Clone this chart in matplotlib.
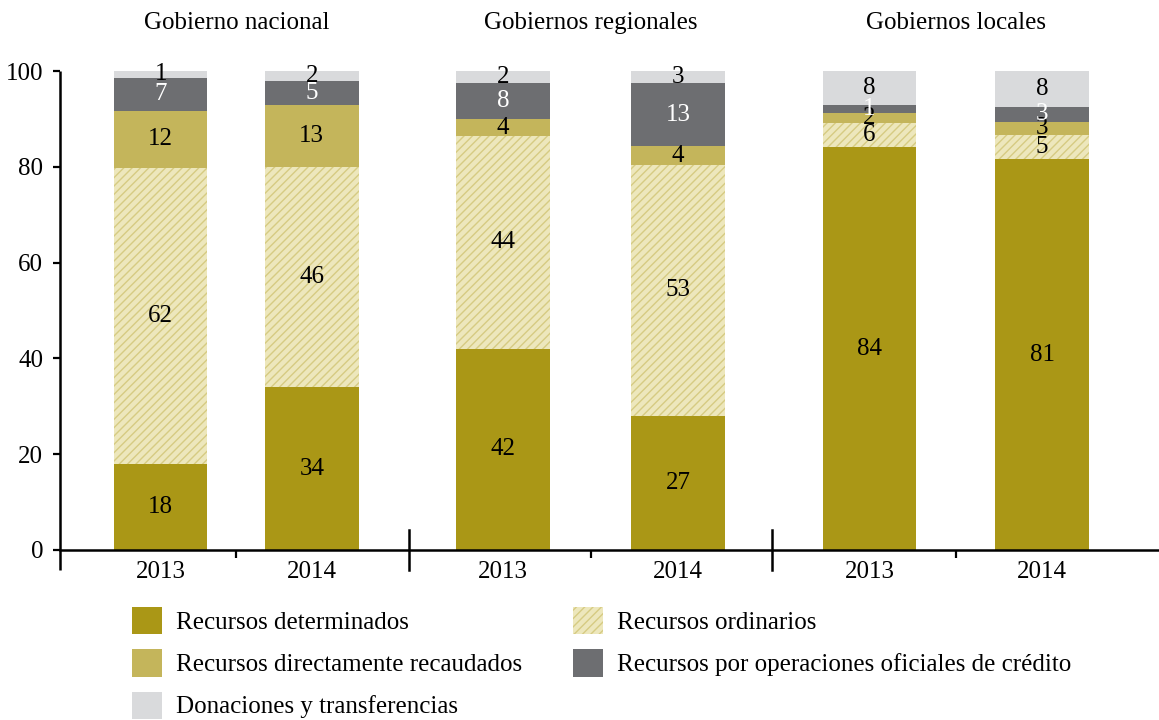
import numpy as np
import matplotlib
matplotlib.use('Agg')
import matplotlib.pyplot as plt
import matplotlib.transforms as mtransforms
from matplotlib.patches import Patch

plt.rcParams['font.family'] = ['Liberation Serif', 'DejaVu Serif']
plt.rcParams['hatch.linewidth'] = 1.0

# Data (percent of each bar), bars: GN 2013, GN 2014, GR 2013, GR 2014, GL 2013, GL 2014
groups = ['Gobierno nacional', 'Gobiernos regionales', 'Gobiernos locales']
years = ['2013', '2014']
series = ['Recursos determinados', 'Recursos ordinarios', 'Recursos directamente recaudados',
          'Recursos por operaciones oficiales de crédito', 'Donaciones y transferencias']
determinados = [18.0, 34.0, 42.0, 28.0, 84.1, 81.6]
ordinarios = [61.8, 46.0, 44.4, 52.4, 5.1, 5.0]
directos = [11.9, 12.9, 3.6, 3.9, 2.1, 2.8]
credito = [6.9, 5.0, 7.5, 13.2, 1.6, 3.1]
donaciones = [1.4, 2.1, 2.5, 2.5, 7.1, 7.5]
# labels as printed on the chart
lab_determinados = ['18', '34', '42', '27', '84', '81']
lab_ordinarios = ['62', '46', '44', '53', '6', '5']
lab_directos = ['12', '13', '4', '4', '2', '3']
lab_credito = ['7', '5', '8', '13', '1', '3']
lab_donaciones = ['1', '2', '2', '3', '8', '8']

values = [determinados, ordinarios, directos, credito, donaciones]
labels = [lab_determinados, lab_ordinarios, lab_directos, lab_credito, lab_donaciones]
colours = ['#AA9716', '#EDE7BC', '#C4B55B', '#6D6E71', '#D9DADC']
hatches = [None, '////', None, None, None]
edges = ['#AA9716', '#D6CB82', '#C4B55B', '#6D6E71', '#D9DADC']
text_colours = ['black', 'black', 'black', 'white', 'black']
FS = 18

fig = plt.figure(figsize=(11.59, 7.2), dpi=100)
ax = fig.add_axes([60 / 1159, 1 - 550 / 720, 1 - 60 / 1159, 479 / 720])

group_pos = np.array([0.0, 0.985, 2.0])
offsets = [0.21, 0.243, 0.24]
width = 0.26
xpos = np.array([g + s * o for g, o in zip(group_pos, offsets) for s in (-1, 1)])

bottom = np.zeros(len(xpos))
for vals, labs, col, hat, edge, tcol in zip(values, labels, colours, hatches, edges, text_colours):
    vals = np.array(vals)
    ax.bar(xpos, vals, width, bottom=bottom, color=col, hatch=hat, edgecolor=edge, linewidth=0)
    for x, b, v, lab in zip(xpos, bottom, vals, labs):
        ax.text(x, b + v / 2, lab, ha='center', va='center', fontsize=FS, color=tcol)
    bottom += vals

ax.set_ylim(0, 100)
ax.set_xlim(-0.49, 2.565)
ax.set_yticks(range(0, 101, 20))
ax.tick_params(axis='y', length=5, width=1.6, pad=7, labelsize=FS)
ax.set_xticks(xpos)
ax.set_xticklabels(years * 3)
ax.tick_params(axis='x', which='major', length=0, pad=8, labelsize=FS)
ax.set_xticks(group_pos, minor=True)
ax.tick_params(axis='x', which='minor', length=6, width=1.6)

for side in ['top', 'right', 'left']:
    ax.spines[side].set_visible(False)
ax.spines['bottom'].set_linewidth(1.8)

# y axis line running a little below the x axis, and group separators
ext = 20 / 479
sep_tr = mtransforms.blended_transform_factory(ax.transData, ax.transAxes)
ax.plot([-0.49, -0.49], [-ext, 1], transform=sep_tr, color='black', lw=1.8,
        clip_on=False, solid_capstyle='butt')
for sx in [0.48, 1.49]:
    ax.plot([sx, sx], [-ext, ext], transform=sep_tr, color='black', lw=1.8, clip_on=False)

title_tr = mtransforms.blended_transform_factory(ax.transData, fig.transFigure)
for g, name in zip(group_pos, groups):
    ax.text(g, 1 - 23 / 720, name, transform=title_tr, ha='center', va='center', fontsize=FS)

order = [0, 2, 4, 1, 3]
handles = [Patch(facecolor=colours[i], hatch=hatches[i], edgecolor=edges[i], linewidth=0) for i in order]
fig.legend(handles, [series[i] for i in order], ncol=2, loc='upper left',
           bbox_to_anchor=(132 / 1159, 1 - 607 / 720), frameon=False, fontsize=FS,
           handlelength=1.2, handleheight=1.3, handletextpad=0.55, columnspacing=2.05,
           labelspacing=0.6, borderpad=0, borderaxespad=0)

fig.savefig('out.png', dpi=100)
